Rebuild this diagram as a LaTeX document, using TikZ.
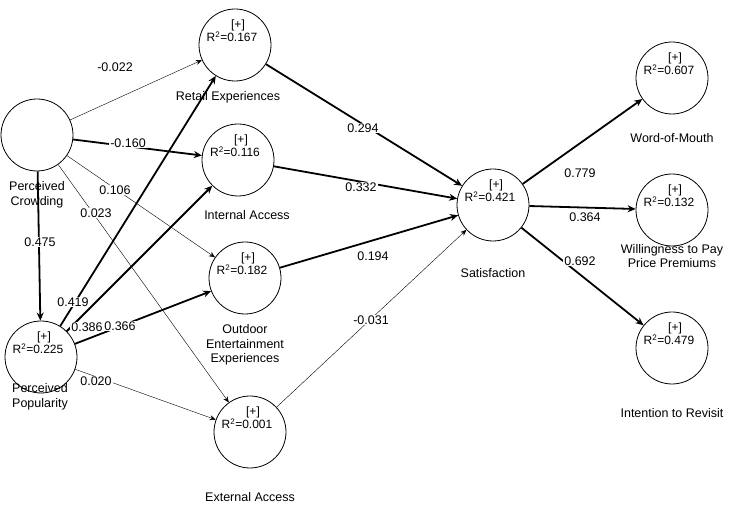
\documentclass[tikz,border=0pt]{standalone}
\usepackage{fontspec}
\setmainfont{Liberation Sans}
\usetikzlibrary{arrows.meta}
\tikzset{
  construct/.style={circle, draw, line width=0.8pt, minimum size=72pt, inner sep=0pt},
  inner text/.style={font=\fontsize{12}{14}\selectfont, align=center},
  name text/.style={font=\fontsize{12.5}{14.5}\selectfont, align=center},
  coef/.style={font=\fontsize{12.5}{13}\selectfont, fill=white, inner sep=1pt},
  thin path/.style={->, line width=0.4pt, >={Stealth[length=6pt,width=5pt]}},
  thick path/.style={->, line width=1.8pt, >={Stealth[length=8pt,width=7pt]}},
}
\newcommand{\rsq}[1]{\hspace*{6pt}[+]\\[-1pt]\hspace*{-6pt}R\textsuperscript{2}=#1}
\begin{document}
\begin{tikzpicture}[x=1pt, y=-1pt]
  \useasboundingbox (0,0) rectangle (740,510);

  \node [construct] (crowd) at (37,135) {};
  \node [construct] (pop) at (41,357) {};
  \node [construct] (retail) at (235,45) {};
  \node [construct] (internal) at (238,160) {};
  \node [construct] (outdoor) at (245,278) {};
  \node [construct] (external) at (250,432) {};
  \node [construct] (sat) at (493,205) {};
  \node [construct] (wom) at (672,78) {};
  \node [construct] (wtp) at (672,210) {};
  \node [construct] (revisit) at (672,348) {};

  \foreach \n/\v in {pop/0.225, retail/0.167, internal/0.116, outdoor/0.182,
      external/0.001, sat/0.421, wom/0.607, wtp/0.132, revisit/0.479}
    \node [inner text] at ([yshift=14pt]\n.center) {\rsq{\v}};

  \node [name text] at (37,195) {Perceived\\Crowding};
  \node [name text] at (40,397) {Perceived\\Popularity};
  \node [name text] at (228,97) {Retail Experiences};
  \node [name text] at (247,215) {Internal Access};
  \node [name text] at (245,345) {Outdoor\\Entertainment\\Experiences};
  \node [name text] at (250,497) {External Access};
  \node [name text] at (493,273) {Satisfaction};
  \node [name text] at (672,138) {Word-of-Mouth};
  \node [name text] at (672,256) {Willingness to Pay\\Price Premiums};
  \node [name text] at (672,413) {Intention to Revisit};

  % paths
  \draw [thin path] (crowd) -- (retail);
  \draw [thick path] (crowd) -- (internal);
  \draw [thin path] (crowd) -- (outdoor);
  \draw [thin path] (crowd) -- (external);
  \draw [thick path] (crowd) -- (pop);
  \draw [thick path] (pop) -- (retail);
  \draw [thick path] (pop) -- (internal);
  \draw [thick path] (pop) -- (outdoor);
  \draw [thin path] (pop) -- (external);
  \draw [thick path] (retail) -- (sat);
  \draw [thick path] (internal) -- (sat);
  \draw [thick path] (outdoor) -- (sat);
  \draw [thin path] (external) -- (sat);
  \draw [thick path] (sat) -- (wom);
  \draw [thick path] (sat) -- (wtp);
  \draw [thick path] (sat) -- (revisit);

  \foreach \t/\x/\y in {-0.022/115/67, -0.160/128/143, 0.106/115/190, 0.023/96/213,
      0.475/40/242, 0.419/73/302, 0.386/87/327, 0.366/120/326, 0.020/96/381,
      0.294/363/128, 0.332/361/187, 0.194/373/256, -0.031/371/320,
      0.779/580/173, 0.364/585/217, 0.692/580/261}
    \node [coef] at (\x,\y) {\t};
\end{tikzpicture}
\end{document}
